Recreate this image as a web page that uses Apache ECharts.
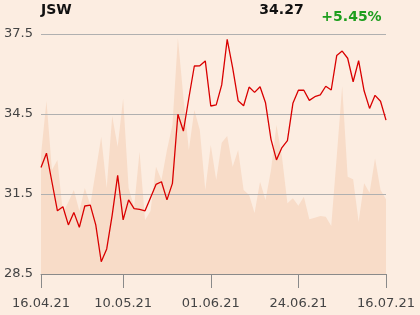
<!DOCTYPE html>
<html>
<head>
<meta charset="utf-8">
<script src="https://cdn.jsdelivr.net/npm/echarts@6/dist/echarts.min.js"></script>
<style>
html,body{margin:0;padding:0;background:#fcede1;}
#c{width:420px;height:315px;}
</style>
</head>
<body>
<div id="c"></div>
<script>
var dates = ["16.04.21","19.04.21","20.04.21","21.04.21","22.04.21","23.04.21","26.04.21","27.04.21","28.04.21","29.04.21","30.04.21",
"04.05.21","05.05.21","06.05.21","07.05.21","10.05.21","11.05.21","12.05.21","13.05.21","14.05.21","17.05.21","18.05.21","19.05.21","20.05.21","21.05.21",
"24.05.21","25.05.21","26.05.21","27.05.21","28.05.21","31.05.21","01.06.21","02.06.21","04.06.21","07.06.21","08.06.21","09.06.21","10.06.21","11.06.21",
"14.06.21","15.06.21","16.06.21","17.06.21","18.06.21","21.06.21","22.06.21","23.06.21","24.06.21","25.06.21","28.06.21","29.06.21","30.06.21","01.07.21","02.07.21",
"05.07.21","06.07.21","07.07.21","08.07.21","09.07.21","12.07.21","13.07.21","14.07.21","15.07.21","16.07.21"];

var prices = [32.49,33.03,31.95,30.87,31.02,30.34,30.81,30.25,31.05,31.08,30.34,
28.96,29.44,30.71,32.20,30.53,31.28,30.95,30.92,30.87,31.36,31.86,31.96,31.28,31.90,
34.49,33.86,35.10,36.30,36.31,36.49,34.80,34.84,35.59,37.30,36.23,35.00,34.81,35.51,
35.31,35.52,34.92,33.55,32.78,33.24,33.50,34.90,35.39,35.39,35.01,35.15,35.22,35.54,35.40,
36.69,36.86,36.59,35.71,36.50,35.37,34.71,35.20,34.98,34.27];

var volumes = [1190,1730,1040,1140,610,720,840,630,860,690,1030,
1373,860,1580,1273,1755,860,670,1223,540,630,1073,940,1240,1490,
2360,1770,1240,1640,1440,840,1290,940,1313,1380,1073,1240,840,790,
610,923,740,1040,1490,1173,707,757,683,773,547,563,580,573,480,
1173,1880,973,947,523,907,813,1157,840,747];

var labelIdx = [0,15,31,47,63];
var yTicks = {min:28.5, max:37.5, step:3};

var title = "JSW";
var lastText = "34.27";
var changeText = "+5.45%";

var chart = echarts.init(document.getElementById('c'), null, {renderer:'canvas'});
function showIdx(i){ return labelIdx.indexOf(i) >= 0; }
chart.setOption({
  backgroundColor:'#fcede1',
  animation:false,
  grid:{left:41,right:34,top:34,bottom:41,containLabel:false},
  graphic:[
    {type:'text',left:41,top:3,z:10,style:{text:title,font:'bold 14px "DejaVu Sans"',fill:'#111'}},
    {type:'text',x:281.5,y:10,z:10,style:{text:lastText,font:'bold 14px "DejaVu Sans"',fill:'#111',textAlign:'center',textVerticalAlign:'middle'}},
    {type:'text',x:351.5,y:17,z:10,style:{text:changeText,font:'bold 14px "DejaVu Sans"',fill:'#1e9e1e',textAlign:'center',textVerticalAlign:'middle'}}
  ],
  xAxis:{
    type:'category',data:dates,boundaryGap:false,
    axisLine:{show:true,lineStyle:{color:'#8a8a8a',width:1}},
    axisTick:{show:true,length:14,interval:function(i){return showIdx(i);},lineStyle:{color:'#8a8a8a'}},
    axisLabel:{interval:function(i){return showIdx(i);},margin:23,color:'#444',fontSize:13,fontFamily:'DejaVu Sans'},
    splitLine:{show:false},
    z:5
  },
  yAxis:[{
    type:'value',min:yTicks.min,max:yTicks.max,interval:yTicks.step,
    axisLine:{show:false},axisTick:{show:false},
    axisLabel:{margin:8,color:'#444',fontSize:13,fontFamily:'DejaVu Sans',formatter:function(v){return v.toFixed(1);}},
    splitLine:{show:true,lineStyle:{color:'#b0b0b0',width:1}},
    z:3
  },{
    type:'value',min:0,max:2400,show:false,splitLine:{show:false}
  }],
  series:[{
    type:'line',data:volumes,yAxisIndex:1,symbol:'none',
    lineStyle:{width:0,opacity:0},
    areaStyle:{color:'#f8dcc8',opacity:1},
    z:1,silent:true
  },{
    type:'line',data:prices,yAxisIndex:0,symbol:'none',
    lineStyle:{color:'#d90000',width:1.3},
    z:6,silent:true
  }]
});
</script>
</body>
</html>
